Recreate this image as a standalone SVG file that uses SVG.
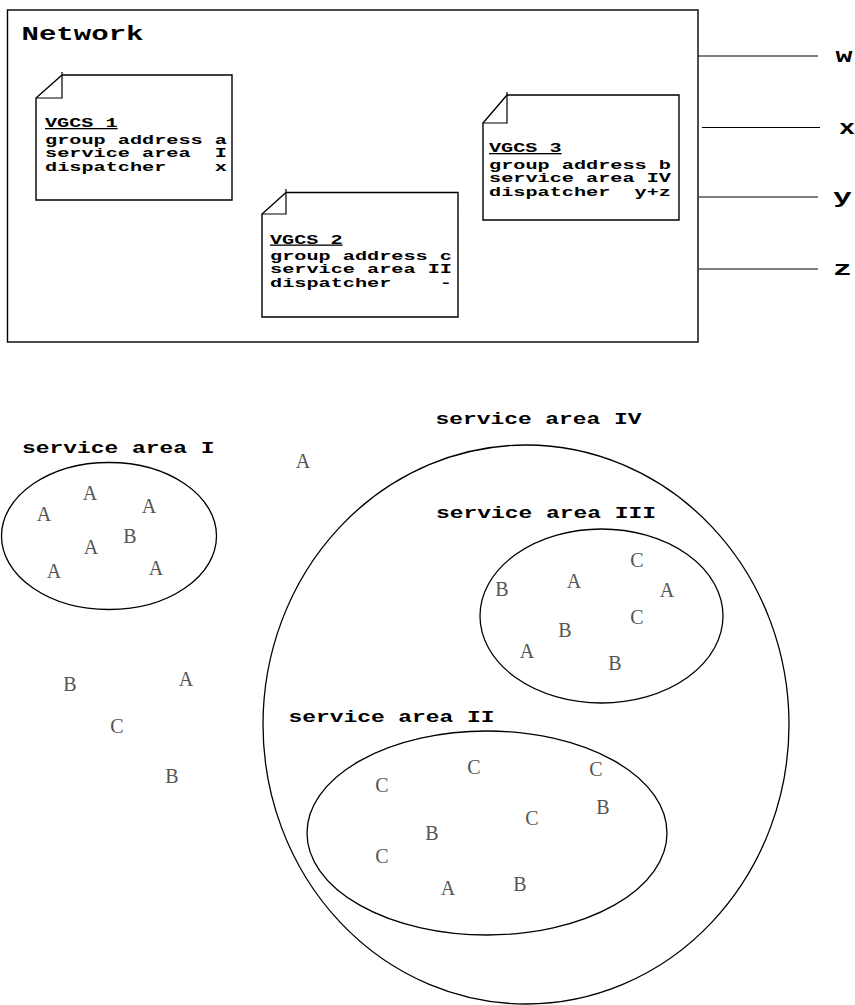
<svg xmlns="http://www.w3.org/2000/svg" width="855" height="1005" viewBox="0 0 855 1005">
<style>
.box{fill:none;stroke:#000;stroke-width:1.4}
.ln{stroke:#000;stroke-width:1.2;fill:none}
.ell{fill:none;stroke:#000;stroke-width:1.3}
.mono{font-family:"Liberation Mono","Courier New",monospace;font-weight:bold;fill:#000}
.note{font-size:13px}
.head{font-size:16px}
.u{text-decoration:underline}
.ltr{font-family:"Liberation Serif","Times New Roman",serif;font-size:20px;fill:#555;text-anchor:middle}
</style>
<rect width="855" height="1005" fill="#fff"/>

<g id="network">
  <rect class="box" x="7.5" y="10" width="690.5" height="332"/>
  <text class="mono" x="21.5" y="40" font-size="20" textLength="122" lengthAdjust="spacingAndGlyphs">Network</text>
</g>

<g id="vgcs1">
  <path class="box" d="M62,75 H232 V200 H36 V98 L62,75"/>
  <path class="ln" d="M62,72 V98 H36"/>
  <text class="mono note u" x="45" y="127" textLength="72.6" lengthAdjust="spacingAndGlyphs">VGCS 1</text>
  <text class="mono note" x="45" y="143.5" textLength="182" lengthAdjust="spacingAndGlyphs" xml:space="preserve">group address a</text>
  <text class="mono note" x="45" y="157" textLength="182" lengthAdjust="spacingAndGlyphs" xml:space="preserve">service area  I</text>
  <text class="mono note" x="45" y="170.5" textLength="182" lengthAdjust="spacingAndGlyphs" xml:space="preserve">dispatcher    x</text>
</g>

<g id="vgcs2">
  <path class="box" d="M286,192.5 H458 V317 H262 V214 L286,192.5"/>
  <path class="ln" d="M286,189 V214 H262"/>
  <text class="mono note u" x="270" y="243.5" textLength="72.6" lengthAdjust="spacingAndGlyphs">VGCS 2</text>
  <text class="mono note" x="270" y="259.5" textLength="182" lengthAdjust="spacingAndGlyphs" xml:space="preserve">group address c</text>
  <text class="mono note" x="270" y="273" textLength="182" lengthAdjust="spacingAndGlyphs" xml:space="preserve">service area II</text>
  <text class="mono note" x="270" y="286.5" textLength="182" lengthAdjust="spacingAndGlyphs" xml:space="preserve">dispatcher    -</text>
</g>

<g id="vgcs3">
  <path class="box" d="M507,95 H679 V220 H483 V123 L507,95"/>
  <path class="ln" d="M507,92 V123 H483"/>
  <text class="mono note u" x="489" y="152" textLength="72.6" lengthAdjust="spacingAndGlyphs">VGCS 3</text>
  <text class="mono note" x="489" y="168.5" textLength="182" lengthAdjust="spacingAndGlyphs" xml:space="preserve">group address b</text>
  <text class="mono note" x="489" y="182" textLength="182" lengthAdjust="spacingAndGlyphs" xml:space="preserve">service area IV</text>
  <text class="mono note" x="489" y="195.5" textLength="182" lengthAdjust="spacingAndGlyphs" xml:space="preserve">dispatcher  y+z</text>
</g>

<g id="connectors">
  <line class="ln" x1="698" y1="56" x2="818" y2="56"/>
  <line class="ln" x1="702" y1="127.5" x2="820" y2="127.5"/>
  <line class="ln" x1="699" y1="197" x2="818" y2="197"/>
  <line class="ln" x1="699" y1="269" x2="818" y2="269"/>
</g>

<g id="labels">
  <text class="mono" x="835.5" y="62" font-size="20" textLength="17" lengthAdjust="spacingAndGlyphs">w</text>
  <text class="mono" x="839" y="134" font-size="20" textLength="16" lengthAdjust="spacingAndGlyphs">x</text>
  <text class="mono" x="833" y="203" font-size="20" textLength="19" lengthAdjust="spacingAndGlyphs">y</text>
  <text class="mono" x="833" y="275" font-size="20" textLength="19" lengthAdjust="spacingAndGlyphs">z</text>
</g>

<g id="area-IV">
  <ellipse class="ell" cx="526" cy="724.5" rx="263" ry="279.5"/>
  <text class="mono head" x="435.5" y="424" textLength="206" lengthAdjust="spacingAndGlyphs">service area IV</text>
</g>

<g id="area-I">
  <ellipse class="ell" cx="109" cy="536" rx="107.5" ry="73.5"/>
  <text class="mono head" x="22" y="452.5" textLength="192.5" lengthAdjust="spacingAndGlyphs">service area I</text>
  <text class="ltr" x="90" y="500">A</text>
  <text class="ltr" x="44" y="520.5">A</text>
  <text class="ltr" x="149" y="512.5">A</text>
  <text class="ltr" x="130" y="543">B</text>
  <text class="ltr" x="91" y="554">A</text>
  <text class="ltr" x="54" y="578">A</text>
  <text class="ltr" x="156" y="575">A</text>
</g>

<g id="area-III">
  <ellipse class="ell" cx="601.5" cy="616" rx="121.5" ry="87"/>
  <text class="mono head" x="436" y="518" textLength="220" lengthAdjust="spacingAndGlyphs">service area III</text>
  <text class="ltr" x="637" y="566.5">C</text>
  <text class="ltr" x="502" y="596">B</text>
  <text class="ltr" x="574" y="588">A</text>
  <text class="ltr" x="667" y="597">A</text>
  <text class="ltr" x="637" y="624">C</text>
  <text class="ltr" x="565" y="637">B</text>
  <text class="ltr" x="527" y="658">A</text>
  <text class="ltr" x="615" y="670">B</text>
</g>

<g id="area-II">
  <ellipse class="ell" cx="487" cy="833" rx="180" ry="102"/>
  <text class="mono head" x="288.5" y="722" textLength="206" lengthAdjust="spacingAndGlyphs">service area II</text>
  <text class="ltr" x="382" y="791.5">C</text>
  <text class="ltr" x="474" y="774">C</text>
  <text class="ltr" x="596" y="776">C</text>
  <text class="ltr" x="603" y="814">B</text>
  <text class="ltr" x="532" y="825">C</text>
  <text class="ltr" x="432" y="840">B</text>
  <text class="ltr" x="382" y="862.5">C</text>
  <text class="ltr" x="448" y="895">A</text>
  <text class="ltr" x="520" y="890.5">B</text>
</g>

<g id="outside">
  <text class="ltr" x="303" y="468">A</text>
  <text class="ltr" x="70" y="691">B</text>
  <text class="ltr" x="186" y="686">A</text>
  <text class="ltr" x="117" y="733">C</text>
  <text class="ltr" x="172" y="783">B</text>
</g>
</svg>
